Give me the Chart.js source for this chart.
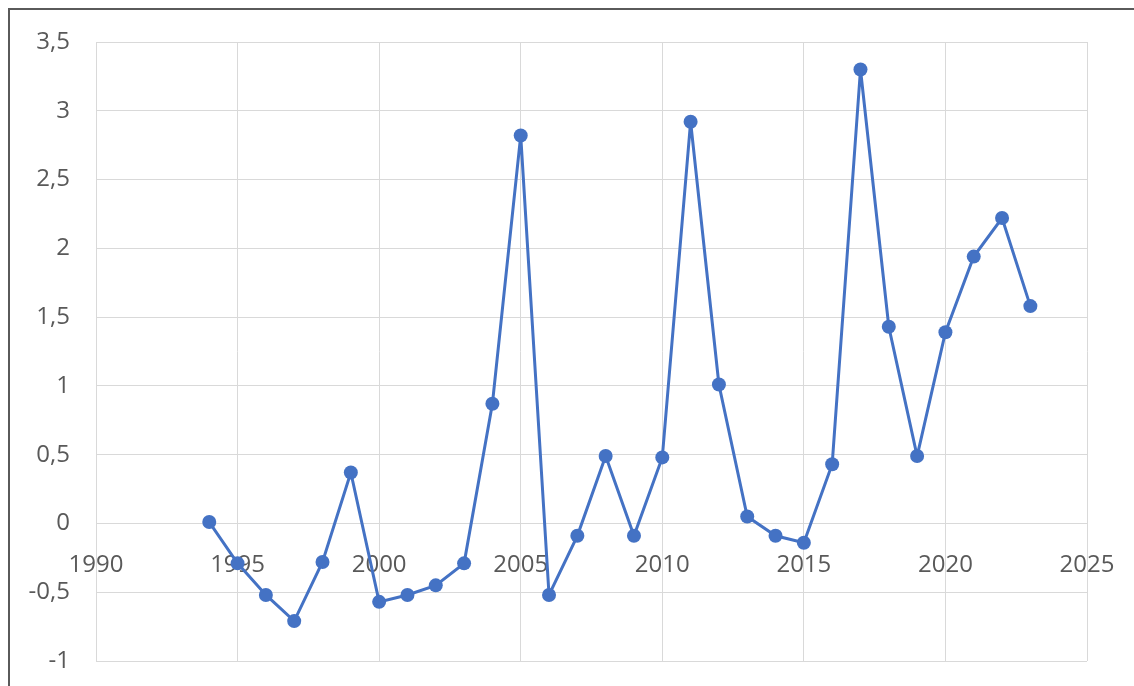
<!DOCTYPE html>
<html>
<head>
<meta charset="utf-8">
<script src="https://cdn.jsdelivr.net/npm/chart.js@4/dist/chart.umd.min.js"></script>
<style>
  html, body { margin: 0; padding: 0; background: #ffffff; }
  body { width: 1134px; height: 686px; position: relative; overflow: hidden; }
  #frame {
    position: absolute; left: 8px; top: 8px; width: 1140px; height: 700px;
    border-left: 2px solid #5a5a5a; border-top: 2px solid #5a5a5a;
  }
  #wrap { position: absolute; left: 0; top: 0; width: 1134px; height: 686px; }
</style>
</head>
<body>
<div id="frame"></div>
<div id="wrap"><canvas id="chart" width="1134" height="686"></canvas></div>
<script>
// Yearly series, 1994–2023
const years = [1994, 1995, 1996, 1997, 1998, 1999, 2000, 2001, 2002, 2003,
               2004, 2005, 2006, 2007, 2008, 2009, 2010, 2011, 2012, 2013,
               2014, 2015, 2016, 2017, 2018, 2019, 2020, 2021, 2022, 2023];
const values = [0.01, -0.29, -0.52, -0.71, -0.28, 0.37, -0.57, -0.52, -0.45, -0.29,
                0.87, 2.82, -0.52, -0.09, 0.49, -0.09, 0.48, 2.92, 1.01, 0.05,
                -0.09, -0.14, 0.43, 3.30, 1.43, 0.49, 1.39, 1.94, 2.22, 1.58];

// Axis ranges and tick steps
const xRange = [1990, 2025];
const xStep = 5;
const yRange = [-1, 3.5];
const yStep = 0.5;

const points = years.map((y, i) => ({ x: y, y: values[i] }));

const blue = '#4472C4';
const gridColor = '#d9d9d9';
const labelColor = '#595959';
const labelFont = { family: '"Open Sans", sans-serif', size: 24 };

new Chart(document.getElementById('chart'), {
  type: 'scatter',
  data: {
    datasets: [{
      data: points,
      showLine: true,
      borderColor: blue,
      backgroundColor: blue,
      borderWidth: 3,
      pointRadius: 7,
      pointHoverRadius: 7,
      pointBorderWidth: 0,
      tension: 0
    }]
  },
  options: {
    responsive: false,
    animation: false,
    layout: { padding: { left: 0, top: 42, right: 47, bottom: 25 } },
    plugins: { legend: { display: false }, tooltip: { enabled: false } },
    scales: {
      x: {
        type: 'linear',
        position: { y: 0 },
        min: xRange[0], max: xRange[1],
        ticks: {
          stepSize: xStep,
          color: labelColor,
          font: labelFont,
          padding: 0,
          maxRotation: 0,
          callback: v => String(v)
        },
        // invisible tick marks give the gap between the zero line and the year labels
        grid: { color: gridColor, lineWidth: 1, drawTicks: true, tickLength: 27, tickColor: 'rgba(0,0,0,0)' },
        border: { color: gridColor, width: 1 },
        // the axis sits inside the plot at y = 0, so it takes no layout room
        afterFit: scale => { scale.height = 0; }
      },
      y: {
        min: yRange[0], max: yRange[1],
        ticks: {
          stepSize: yStep,
          color: labelColor,
          font: labelFont,
          padding: 0,
          callback: v => String(v).replace('.', ',')
        },
        grid: { color: gridColor, lineWidth: 1, drawTicks: true, tickLength: 26, tickColor: 'rgba(0,0,0,0)' },
        border: { color: gridColor, width: 1 },
        afterFit: scale => { scale.width = 96; }
      }
    }
  }
});
</script>
</body>
</html>
